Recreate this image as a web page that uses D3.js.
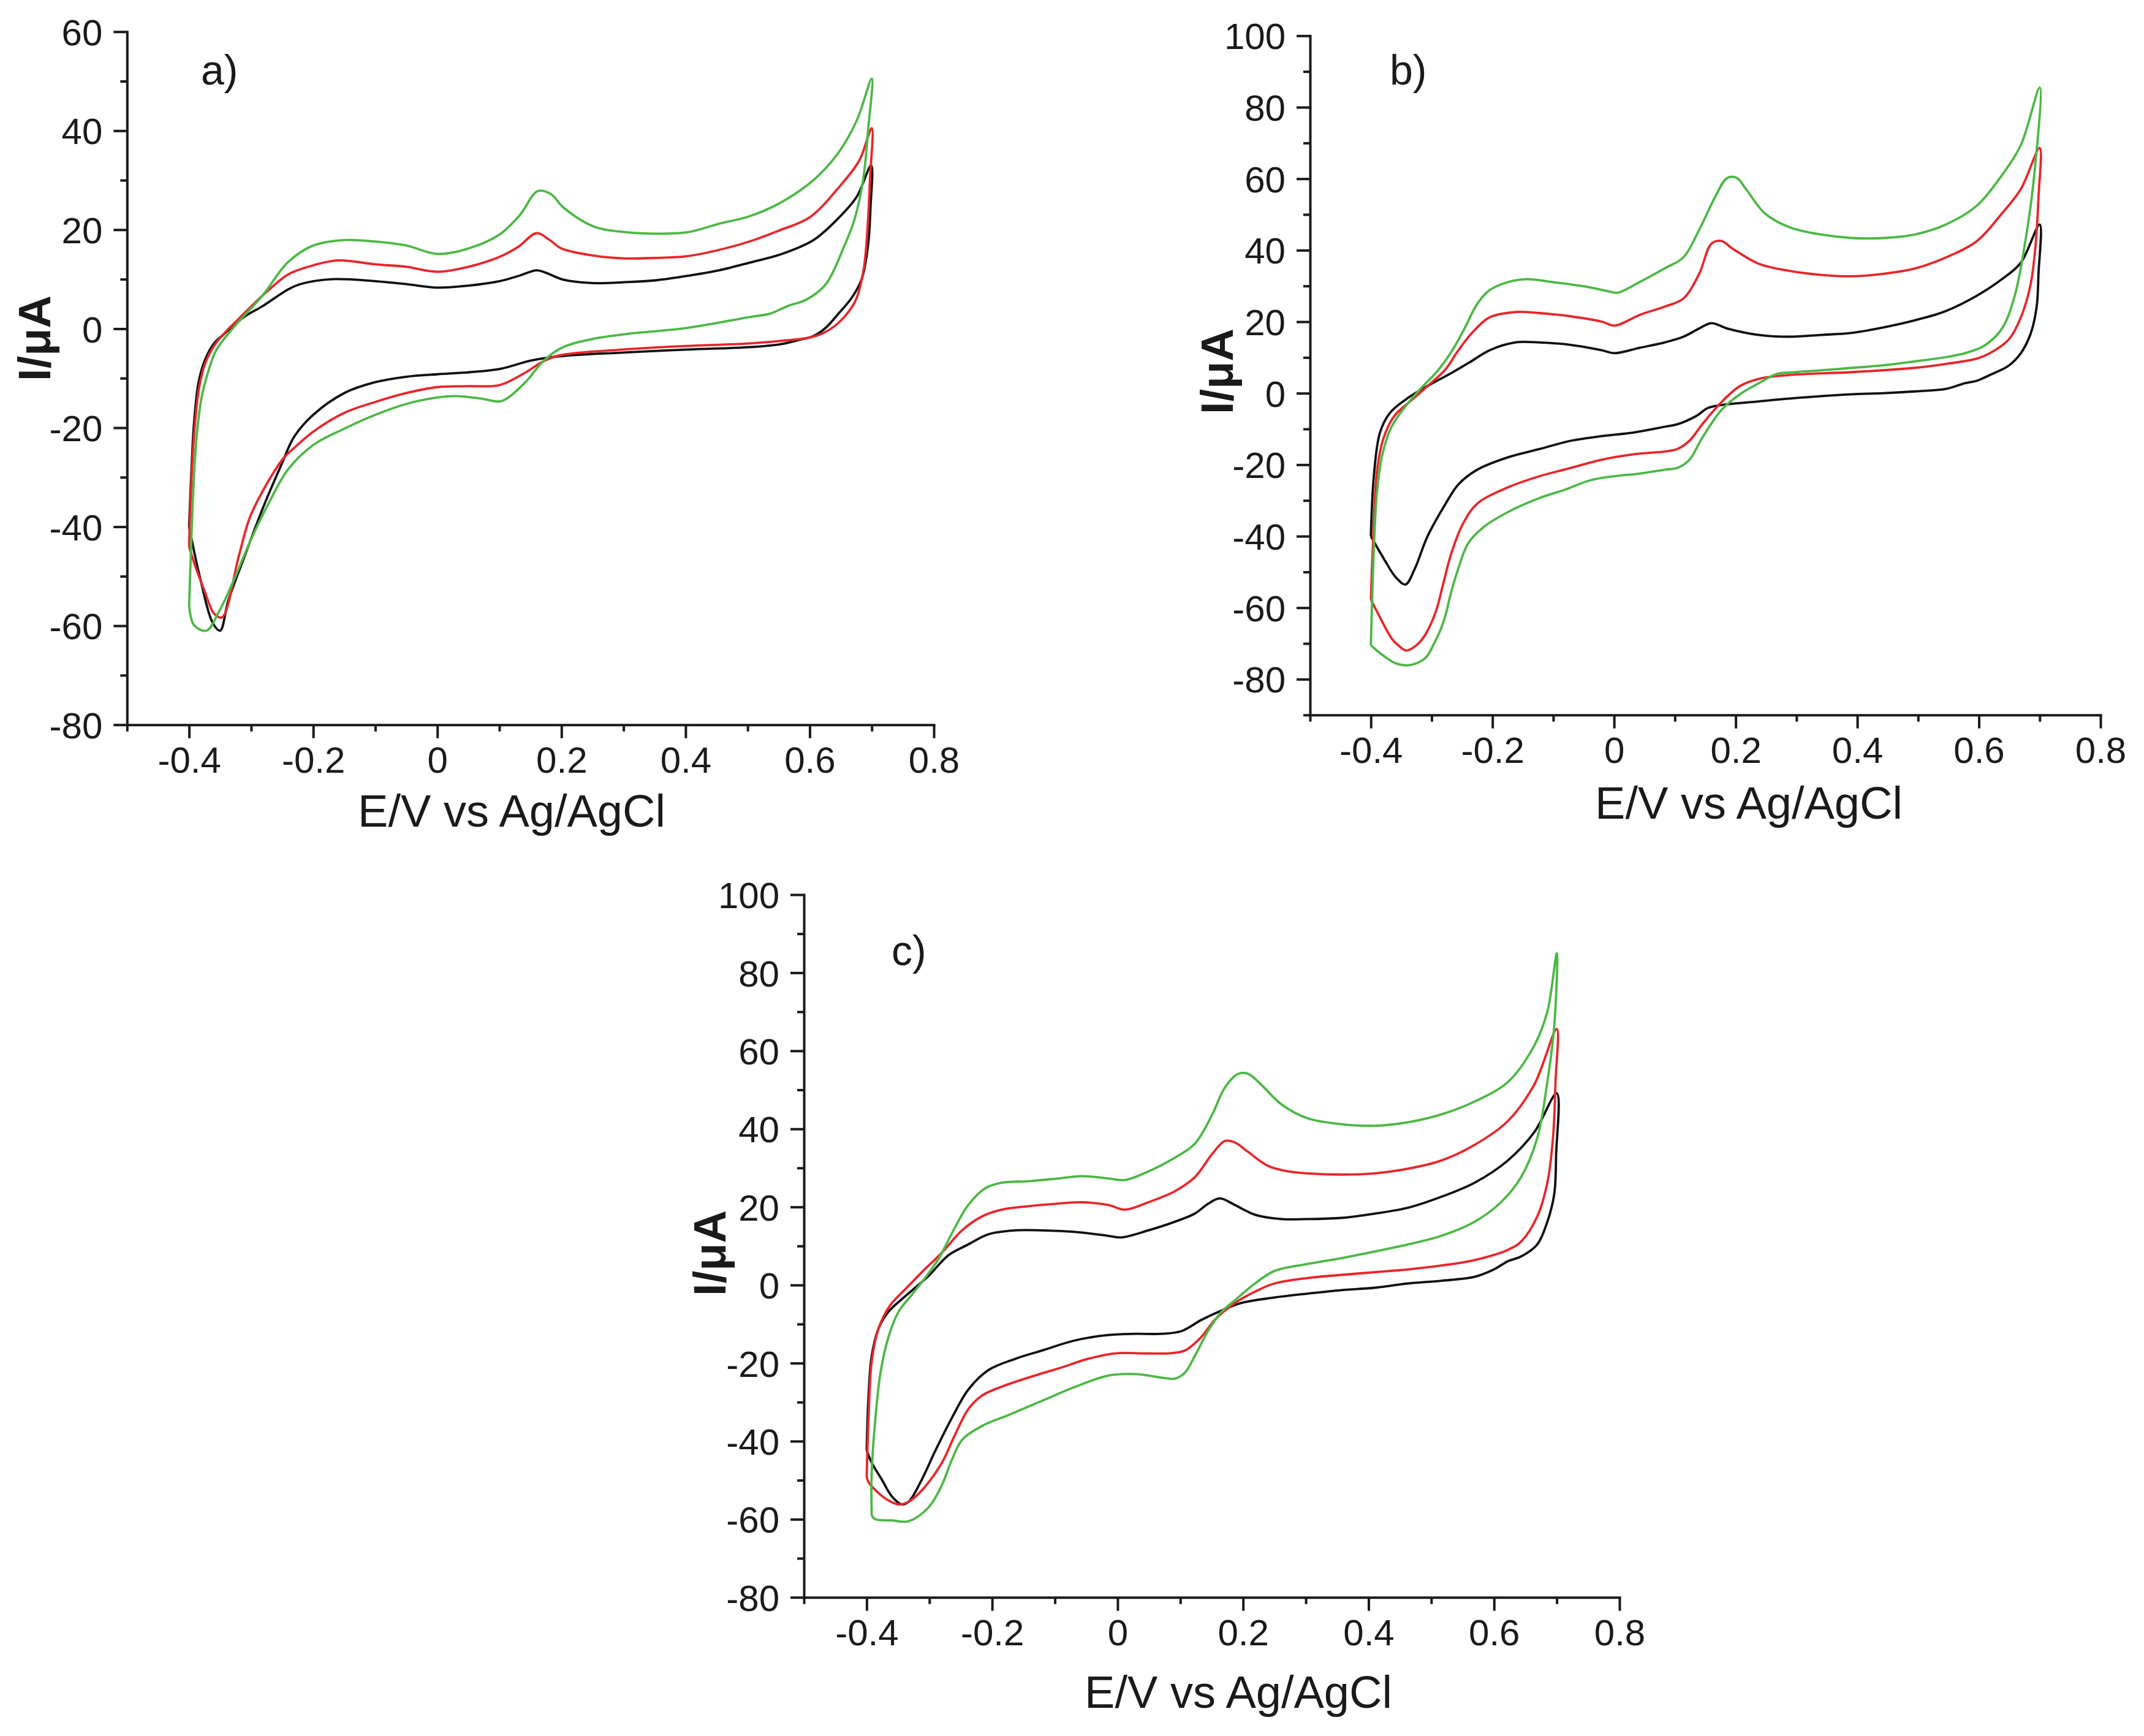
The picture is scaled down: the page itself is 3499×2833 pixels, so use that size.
<!DOCTYPE html>
<html>
<head>
<meta charset="utf-8">
<script src="https://cdn.jsdelivr.net/npm/d3@7"></script>
<style>
  html, body { margin: 0; padding: 0; background: #fff; }
  svg { display: block; }
</style>
</head>
<body>
<script>
// ---------------- DATA ----------------
const xMajor = [-0.4, -0.2, 0, 0.2, 0.4, 0.6, 0.8];
const xTickLabels = ["-0.4", "-0.2", "0", "0.2", "0.4", "0.6", "0.8"];
const xMinor = [-0.5, -0.3, -0.1, 0.1, 0.3, 0.5, 0.7];

const yMajorA = [-80, -60, -40, -20, 0, 20, 40, 60];
const yLabelsA = ["-80", "-60", "-40", "-20", "0", "20", "40", "60"];
const yMinorA = [-70, -50, -30, -10, 10, 30, 50];

const yMajorBC = [-80, -60, -40, -20, 0, 20, 40, 60, 80, 100];
const yLabelsBC = ["-80", "-60", "-40", "-20", "0", "20", "40", "60", "80", "100"];
const yMinorB = [-90, -70, -50, -30, -10, 10, 30, 50, 70, 90];
const yMinorC = [-70, -50, -30, -10, 10, 30, 50, 70, 90];

const panelNames = ["a)", "b)", "c)"];
const xTitle = "E/V vs Ag/AgCl";
const yTitle = "I/\u03bcA";

// Panel a) – cyclic voltammograms [E (V), I (µA)]
const aBlack = [[-0.4,-40],[-0.396,-28],[-0.392,-19],[-0.385,-11],[-0.375,-6.5],[-0.36,-3],[-0.342,-0.9],[-0.311,2.4],[-0.281,4.6],[-0.241,7.9],[-0.221,9],[-0.17,10],[-0.1,9.6],[-0.05,9],[0,8.3],[0.05,8.7],[0.1,9.6],[0.132,10.7],[0.16,11.8],[0.175,11.3],[0.203,9.9],[0.253,9.2],[0.303,9.4],[0.354,9.8],[0.404,10.7],[0.454,11.8],[0.505,13.4],[0.555,15.1],[0.606,17.9],[0.646,22.3],[0.676,26.7],[0.699,33],
  [0.698,24.5],[0.694,16.8],[0.684,10.1],[0.668,6.3],[0.646,3],[0.626,0.2],[0.606,-1.5],[0.585,-2.2],[0.555,-3.1],[0.505,-3.7],[0.404,-4.2],[0.303,-4.8],[0.203,-5.5],[0.152,-6.4],[0.102,-8.1],[0.051,-8.8],[0,-9.2],[-0.05,-9.7],[-0.1,-10.8],[-0.15,-13],[-0.2,-17.4],[-0.231,-21.9],[-0.251,-27.4],[-0.281,-36.2],[-0.311,-46.1],[-0.337,-55],[-0.35,-61],[-0.362,-59.4],[-0.382,-50.5],[-0.4,-40]];
const aRed = [[-0.4,-44],[-0.396,-30],[-0.391,-20],[-0.384,-12],[-0.374,-7],[-0.36,-3.5],[-0.34,-0.5],[-0.32,2],[-0.3,4.5],[-0.27,8],[-0.24,11],[-0.2,12.8],[-0.16,13.8],[-0.1,13],[-0.05,12.5],[0,11.5],[0.05,12.5],[0.1,14.5],[0.13,16.5],[0.16,19.3],[0.18,18],[0.2,16.2],[0.25,14.8],[0.3,14.2],[0.35,14.3],[0.4,14.6],[0.45,15.8],[0.5,17.5],[0.55,19.8],[0.6,22.5],[0.65,29],[0.68,34],[0.7,40.5],
  [0.697,30],[0.693,20],[0.687,12],[0.675,6],[0.66,3],[0.64,0.5],[0.62,-1],[0.6,-1.8],[0.55,-2.5],[0.5,-3],[0.4,-3.5],[0.3,-4.2],[0.2,-5.3],[0.172,-6.5],[0.14,-9],[0.1,-11.4],[0.05,-11.6],[0,-11.8],[-0.05,-13],[-0.1,-14.8],[-0.15,-17],[-0.2,-20.8],[-0.23,-24],[-0.25,-26.5],[-0.3,-37.5],[-0.32,-46],[-0.347,-58.3],[-0.36,-57.5],[-0.375,-53],[-0.39,-48],[-0.4,-44]];
const aGreen = [[-0.4,-56],[-0.397,-45],[-0.393,-32],[-0.388,-22],[-0.38,-14],[-0.37,-9],[-0.357,-4.5],[-0.34,-1.5],[-0.321,1.3],[-0.281,6.8],[-0.241,13.4],[-0.2,16.8],[-0.15,17.9],[-0.1,17.6],[-0.05,16.8],[0,15.1],[0.05,16.2],[0.1,19],[0.132,22.8],[0.162,27.8],[0.183,27.2],[0.203,24.5],[0.253,20.6],[0.303,19.5],[0.354,19.2],[0.404,19.5],[0.454,21.2],[0.505,22.8],[0.555,25.6],[0.606,30],[0.646,35.5],[0.676,42.1],[0.7,50.5],
  [0.694,40],[0.686,30],[0.672,22],[0.656,16.8],[0.626,9],[0.595,5.9],[0.565,4.6],[0.535,3],[0.505,2.4],[0.404,0.2],[0.303,-1.1],[0.253,-2],[0.203,-3.7],[0.172,-6.4],[0.142,-10.8],[0.112,-14.1],[0.1,-14.7],[0.07,-14.1],[0.03,-13.6],[0,-13.9],[-0.05,-15.2],[-0.1,-17.4],[-0.15,-20.2],[-0.2,-23.5],[-0.241,-28.5],[-0.271,-35.1],[-0.301,-42.8],[-0.331,-51.7],[-0.352,-57.2],[-0.372,-61],[-0.392,-59.9],[-0.4,-56]];

// Panel b)
const bBlack = [[-0.4,-40],[-0.395,-23],[-0.385,-11],[-0.369,-5.6],[-0.343,-1.8],[-0.307,2],[-0.266,5.8],[-0.235,8.9],[-0.205,12],[-0.163,14.2],[-0.122,14.2],[-0.071,13.5],[-0.02,12],[0.001,11.2],[0.042,12.7],[0.083,14.2],[0.114,15.8],[0.14,18.1],[0.16,19.6],[0.186,18.1],[0.238,16.3],[0.289,15.8],[0.34,16.3],[0.392,16.9],[0.443,18.4],[0.495,20.4],[0.546,23],[0.597,27.3],[0.638,31.9],[0.669,36.5],[0.7,47.2],
  [0.698,33.4],[0.695,24.2],[0.685,16.6],[0.669,11.2],[0.649,7.7],[0.618,5.1],[0.597,3.5],[0.577,2.8],[0.546,1.2],[0.495,0.5],[0.443,0],[0.392,-0.3],[0.289,-1.5],[0.238,-2.3],[0.186,-3.1],[0.155,-4.1],[0.135,-6.4],[0.104,-8.7],[0.083,-9.4],[0.032,-11],[-0.02,-12],[-0.071,-13.3],[-0.122,-15.6],[-0.174,-17.9],[-0.225,-21.4],[-0.256,-25.5],[-0.277,-30.9],[-0.307,-40.1],[-0.328,-49.2],[-0.343,-53.5],[-0.359,-51.5],[-0.379,-46.2],[-0.4,-40]];
const bRed = [[-0.4,-57.7],[-0.396,-40],[-0.39,-22],[-0.38,-13],[-0.362,-6.5],[-0.33,-1.5],[-0.3,3],[-0.278,6.5],[-0.256,12],[-0.235,16.6],[-0.205,21.2],[-0.163,22.7],[-0.122,22.4],[-0.071,21.5],[-0.02,20],[0.001,18.9],[0.042,21.9],[0.083,24.2],[0.114,26.5],[0.14,33.4],[0.16,41.8],[0.176,42.6],[0.196,40.3],[0.238,36.2],[0.289,34.2],[0.34,33.1],[0.392,32.7],[0.443,33.4],[0.495,34.9],[0.546,38],[0.597,42.6],[0.638,50.3],[0.669,57.1],[0.7,68.6],
  [0.698,54.8],[0.693,41],[0.685,30.4],[0.669,21.2],[0.649,15],[0.618,11.2],[0.597,9.7],[0.546,8.2],[0.495,7.1],[0.392,5.9],[0.289,5.1],[0.238,4],[0.207,2],[0.176,-2.6],[0.145,-8.7],[0.124,-13.3],[0.104,-15.6],[0.083,-16.3],[0.032,-17.1],[-0.02,-18.6],[-0.071,-20.9],[-0.122,-23.2],[-0.174,-26.3],[-0.225,-30.9],[-0.25,-37],[-0.268,-45],[-0.282,-54],[-0.293,-61],[-0.311,-67.7],[-0.325,-70.5],[-0.342,-72],[-0.355,-70.5],[-0.365,-68.8],[-0.389,-61.4],[-0.4,-57.7]];
const bGreen = [[-0.4,-70.5],[-0.398,-58.4],[-0.395,-43.1],[-0.39,-27.8],[-0.381,-17.1],[-0.366,-9.4],[-0.345,-4.1],[-0.318,1.3],[-0.292,5.9],[-0.266,12],[-0.246,18.1],[-0.225,25],[-0.205,28.8],[-0.174,31.1],[-0.143,31.9],[-0.102,31.1],[-0.05,29.9],[-0.009,28.5],[0.006,28.1],[0.042,31.1],[0.083,34.9],[0.114,38],[0.14,45.7],[0.166,54.8],[0.186,60.2],[0.202,60.2],[0.217,57.1],[0.248,50.3],[0.289,46.4],[0.34,44.4],[0.392,43.4],[0.443,43.4],[0.495,44.4],[0.546,47.2],[0.597,52.5],[0.638,61],[0.669,69.4],[0.7,85.5],
  [0.69,59.4],[0.675,41.1],[0.659,27.3],[0.638,18.1],[0.608,13.2],[0.577,11.2],[0.546,10.1],[0.495,8.9],[0.443,7.8],[0.392,7.1],[0.34,6.4],[0.289,5.8],[0.268,5.4],[0.238,2.8],[0.207,-0.3],[0.176,-4.8],[0.145,-12.5],[0.124,-18.6],[0.104,-20.9],[0.083,-21.4],[0.042,-22.5],[0.001,-23.2],[-0.04,-24.4],[-0.081,-27],[-0.122,-29.3],[-0.174,-33.2],[-0.215,-37.5],[-0.24,-42],[-0.258,-50],[-0.27,-57],[-0.276,-61.4],[-0.285,-66],[-0.296,-70],[-0.311,-74.2],[-0.338,-76.1],[-0.36,-75.5],[-0.373,-74.2],[-0.39,-72],[-0.4,-70.5]];

// Panel c)
const cBlack = [[-0.4,-42.3],[-0.397,-28.3],[-0.392,-18.2],[-0.381,-11.1],[-0.365,-6.8],[-0.338,-2.8],[-0.301,2.4],[-0.27,7.6],[-0.238,10.4],[-0.206,13],[-0.163,14],[-0.121,14],[-0.068,13.6],[-0.015,12.6],[0.006,12.2],[0.049,14],[0.091,16.2],[0.123,18.3],[0.144,20.8],[0.163,22.2],[0.187,20.5],[0.219,18],[0.261,16.9],[0.303,16.9],[0.357,17.2],[0.41,18.3],[0.463,19.8],[0.516,22.6],[0.569,26.2],[0.622,31.9],[0.664,39.1],[0.7,49.1],
  [0.699,33.4],[0.696,23.3],[0.685,16.2],[0.669,10.4],[0.643,7.3],[0.622,6.1],[0.6,4],[0.569,2.1],[0.516,1.1],[0.463,0.4],[0.41,-0.7],[0.357,-1.3],[0.303,-2.2],[0.25,-3.2],[0.197,-4.6],[0.166,-6.5],[0.134,-8.9],[0.102,-11.8],[0.07,-12.5],[0.028,-12.5],[-0.015,-12.8],[-0.068,-14.2],[-0.121,-16.8],[-0.163,-18.9],[-0.206,-21.8],[-0.238,-26.8],[-0.264,-34],[-0.291,-42.6],[-0.312,-49.8],[-0.333,-55.5],[-0.344,-56.2],[-0.36,-54.1],[-0.376,-49.8],[-0.392,-45.5],[-0.4,-42.3]];
const cRed = [[-0.4,-49],[-0.397,-34],[-0.392,-19.7],[-0.381,-11.1],[-0.363,-5.3],[-0.338,-1],[-0.312,3.3],[-0.28,8.3],[-0.248,14],[-0.216,17.6],[-0.185,19.3],[-0.142,20.2],[-0.1,20.8],[-0.057,21.2],[-0.015,20.5],[0.012,19.3],[0.049,21.2],[0.091,24],[0.123,27.6],[0.15,33.4],[0.171,36.9],[0.187,36.5],[0.208,34.1],[0.24,30.5],[0.272,29.1],[0.303,28.6],[0.357,28.3],[0.41,28.6],[0.463,29.8],[0.516,31.9],[0.569,35.9],[0.622,42],[0.664,51.3],[0.7,65.6],
  [0.698,52],[0.694,37.7],[0.685,26.2],[0.669,17.6],[0.643,11.1],[0.622,9],[0.569,6.4],[0.516,5],[0.463,4],[0.41,3.3],[0.357,2.6],[0.303,1.8],[0.25,0.4],[0.219,-1.7],[0.187,-4.6],[0.155,-8.9],[0.134,-13.2],[0.107,-16.8],[0.081,-17.5],[0.039,-17.5],[-0.004,-17.5],[-0.047,-18.9],[-0.089,-21.1],[-0.132,-23.2],[-0.174,-25.4],[-0.216,-28.3],[-0.238,-31.8],[-0.259,-38.3],[-0.28,-45.5],[-0.312,-52.6],[-0.333,-55.5],[-0.349,-56.2],[-0.365,-55.2],[-0.381,-53.3],[-0.397,-50.5],[-0.4,-49]];
const cGreen = [[-0.392,-59],[-0.392,-48.3],[-0.386,-34],[-0.378,-22.5],[-0.365,-13.2],[-0.349,-6.8],[-0.328,-2.5],[-0.307,1.8],[-0.285,6.8],[-0.264,13.3],[-0.238,20.5],[-0.211,24.8],[-0.185,26.2],[-0.142,26.6],[-0.1,27.2],[-0.057,27.9],[-0.015,27.3],[0.012,26.9],[0.049,29.1],[0.091,32.6],[0.123,36.2],[0.15,43.4],[0.171,50.6],[0.192,54.1],[0.208,54.1],[0.229,51.3],[0.261,46.3],[0.303,42.7],[0.357,41.2],[0.41,40.8],[0.463,41.7],[0.516,43.7],[0.569,47],[0.622,52],[0.664,61.3],[0.685,70],[0.7,85],
  [0.696,66.3],[0.685,52],[0.669,37.7],[0.643,27.6],[0.611,21.2],[0.569,16.2],[0.516,12.6],[0.463,10.4],[0.41,8.6],[0.357,6.9],[0.303,5.4],[0.25,3.6],[0.219,0.4],[0.187,-3.9],[0.166,-6.8],[0.144,-11.8],[0.123,-18.2],[0.107,-22.5],[0.091,-24],[0.07,-23.7],[0.028,-22.8],[-0.015,-23.2],[-0.068,-26.1],[-0.121,-29.7],[-0.174,-33.3],[-0.216,-36.1],[-0.248,-39.7],[-0.264,-44.7],[-0.28,-51.2],[-0.301,-56.9],[-0.333,-60.5],[-0.36,-60.3],[-0.386,-60],[-0.392,-59]];

// ---------------- LAYOUT / STYLE ----------------
const W = 3499, H = 2833;
const FONT = "'Liberation Sans', Arial, Helvetica, sans-serif";
const INK = "#1a1a1a";
const COLORS = { black: "#111111", red: "#e8262b", green: "#4cb845" };

const panels = [
  { name: panelNames[0], xr: [207.3, 1524], yd: [-80, 60], yr: [1182.7, 51.7],
    yMajor: yMajorA, yLabels: yLabelsA, yMinor: yMinorA,
    series: [[aBlack, COLORS.black], [aRed, COLORS.red], [aGreen, COLORS.green]],
    tag: [328, 138], title: [835, 1349], ylab: [82, 552] },
  { name: panelNames[1], xr: [2138, 3428], yd: [-90, 100], yr: [1166.7, 58.3],
    yMajor: yMajorBC, yLabels: yLabelsBC, yMinor: yMinorB,
    series: [[bBlack, COLORS.black], [bRed, COLORS.red], [bGreen, COLORS.green]],
    tag: [2268, 138], title: [2854, 1336], ylab: [2012, 606] },
  { name: panelNames[2], xr: [1312, 2643], yd: [-80, 100], yr: [2606.7, 1460],
    yMajor: yMajorBC, yLabels: yLabelsBC, yMinor: yMinorC,
    series: [[cBlack, COLORS.black], [cRed, COLORS.red], [cGreen, COLORS.green]],
    tag: [1455, 1575], title: [2021, 2787], ylab: [1184, 2045] }
];

const svg = d3.select("body").append("svg")
  .attr("width", W).attr("height", H)
  .attr("viewBox", `0 0 ${W} ${H}`);
svg.append("rect").attr("width", W).attr("height", H).attr("fill", "#fff");

function styleAxis(g) {
  g.attr("font-family", FONT).attr("font-size", 60);
  g.selectAll("path.domain").attr("stroke", INK).attr("stroke-width", 4).attr("stroke-linecap", "square");
  g.selectAll(".tick line").attr("stroke", INK).attr("stroke-width", 4);
  g.selectAll(".tick text").attr("fill", INK);
}

panels.forEach(p => {
  const x = d3.scaleLinear().domain([-0.5, 0.8]).range(p.xr);
  const y = d3.scaleLinear().domain(p.yd).range(p.yr);
  const g = svg.append("g");

  // curves
  const line = d3.line()
    .x(d => x(d[0])).y(d => y(d[1]))
    .curve(d3.curveCatmullRom.alpha(0.5));
  p.series.forEach(([data, color]) => {
    g.append("path").datum(data)
      .attr("d", line)
      .attr("fill", "none")
      .attr("stroke", color)
      .attr("stroke-width", 3.8)
      .attr("stroke-linejoin", "round");
  });

  // x axis (major + minor)
  const gxMinor = g.append("g").attr("transform", `translate(0,${p.yr[0]})`)
    .call(d3.axisBottom(x).tickValues(xMinor).tickSize(11).tickSizeOuter(0).tickFormat(() => ""));
  gxMinor.select("path.domain").remove();
  styleAxis(gxMinor);
  const gx = g.append("g").attr("transform", `translate(0,${p.yr[0]})`)
    .call(d3.axisBottom(x).tickValues(xMajor).tickSize(22).tickSizeOuter(0).tickPadding(14)
      .tickFormat((d, i) => xTickLabels[i]));
  styleAxis(gx);

  // y axis (major + minor)
  const gyMinor = g.append("g").attr("transform", `translate(${p.xr[0]},0)`)
    .call(d3.axisLeft(y).tickValues(p.yMinor).tickSize(11).tickSizeOuter(0).tickFormat(() => ""));
  gyMinor.select("path.domain").remove();
  styleAxis(gyMinor);
  const gy = g.append("g").attr("transform", `translate(${p.xr[0]},0)`)
    .call(d3.axisLeft(y).tickValues(p.yMajor).tickSize(22).tickSizeOuter(0).tickPadding(18)
      .tickFormat((d, i) => p.yLabels[i]));
  styleAxis(gy);
  gy.selectAll(".tick text").attr("dy", "0.36em");

  // panel tag
  g.append("text").attr("x", p.tag[0]).attr("y", p.tag[1])
    .attr("font-family", FONT).attr("font-size", 68).attr("fill", INK)
    .text(p.name);

  // x title
  g.append("text").attr("x", p.title[0]).attr("y", p.title[1])
    .attr("text-anchor", "middle")
    .attr("font-family", FONT).attr("font-size", 74).attr("fill", INK)
    .text(xTitle);

  // y title
  g.append("text")
    .attr("transform", `translate(${p.ylab[0]},${p.ylab[1]}) rotate(-90)`)
    .attr("text-anchor", "middle")
    .attr("font-family", FONT).attr("font-size", 74).attr("font-weight", "bold").attr("fill", INK)
    .text(yTitle);
});
</script>
</body>
</html>
